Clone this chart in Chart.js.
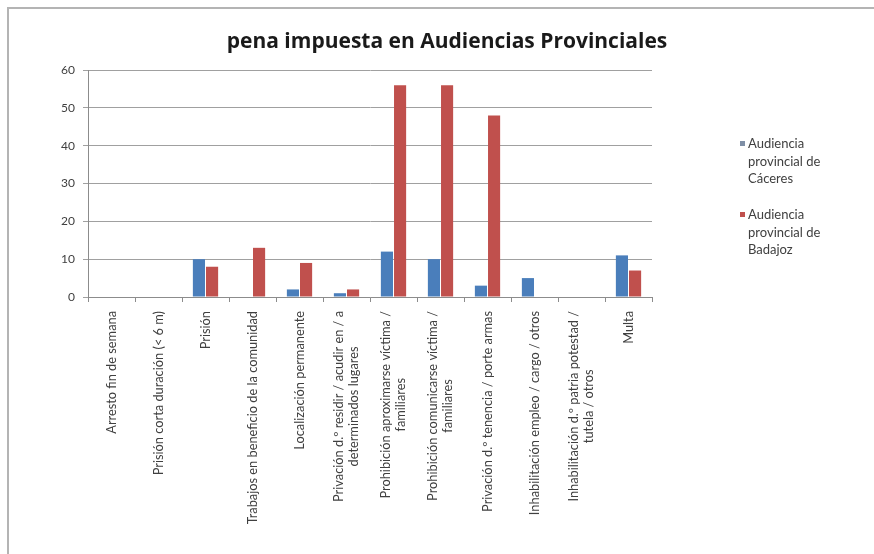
<!DOCTYPE html>
<html>
<head>
<meta charset="utf-8">
<script src="https://cdn.jsdelivr.net/npm/chart.js@4"></script>
<style>
  html, body { margin: 0; padding: 0; background: #ffffff; }
  #wrap { position: relative; width: 874px; height: 554px; overflow: hidden; }
  #frame { position: absolute; left: 7px; top: 7px; width: 900px; height: 600px;
           border-left: 2px solid #b4b4b4; border-top: 2px solid #b4b4b4; }
  #c { position: absolute; left: 0; top: 0; }
  .leg { position: absolute; left: 748px; font-family: Lato, "Open Sans", sans-serif;
         font-size: 13px; line-height: 17.5px; color: #404040; }
  .sw { position: absolute; width: 5px; height: 5px; left: -8px; top: 6px; }
</style>
</head>
<body>
<div id="wrap">
  <div id="frame"></div>
  <canvas id="c" width="874" height="554"></canvas>
  <div class="leg" id="leg1" style="top:135px;"><span class="sw" style="background:#7f8fa6;"></span>Audiencia<br>provincial de<br>Cáceres</div>
  <div class="leg" id="leg2" style="top:206px;"><span class="sw" style="background:#c0504d;"></span>Audiencia<br>provincial de<br>Badajoz</div>
</div>
<script>
const chartTitle = "pena impuesta en Audiencias Provinciales";
const categories = [
  ["Arresto fin de semana"],
  ["Prisión corta duración (< 6 m)"],
  ["Prisión"],
  ["Trabajos en beneficio de la comunidad"],
  ["Localización permanente"],
  ["Privación d.º residir / acudir en / a", "determinados lugares"],
  ["Prohibición aproximarse víctima /", "familiares"],
  ["Prohibición comunicarse víctima /", "familiares"],
  ["Privación d.º tenencia / porte armas"],
  ["Inhabilitación empleo / cargo / otros"],
  ["Inhabilitación d.º patria potestad /", "tutela / otros"],
  ["Multa"]
];
const seriesNames = ["Audiencia provincial de Cáceres", "Audiencia provincial de Badajoz"];
const caceres = [0, 0, 10, 0, 2, 1, 12, 10, 3, 5, 0, 11];
const badajoz = [0, 0, 8, 13, 9, 2, 56, 56, 48, 0, 0, 7];
const yTicks = [0, 10, 20, 30, 40, 50, 60];

const drawExtras = {
  id: 'drawExtras',
  afterDraw(chart) {
    const ctx = chart.ctx;
    const xs = chart.scales.x;
    ctx.save();
    // title
    ctx.fillStyle = '#1a1a1a';
    ctx.font = 'bold 21px "Open Sans", Lato, sans-serif';
    ctx.textAlign = 'center';
    ctx.textBaseline = 'middle';
    ctx.fillText(chartTitle, 447, 42);
    // x labels, rotated, multi-line centered
    ctx.font = '12.8px Lato, "Open Sans", sans-serif';
    ctx.fillStyle = '#404040';
    const yTop = chart.chartArea.bottom + 14;
    const lh = 15.5;
    categories.forEach((lines, i) => {
      const x = xs.getPixelForValue(i);
      let maxW = 0;
      lines.forEach(l => { maxW = Math.max(maxW, ctx.measureText(l).width); });
      ctx.save();
      ctx.translate(x, yTop);
      ctx.rotate(-Math.PI / 2);
      ctx.textAlign = 'center';
      ctx.textBaseline = 'middle';
      lines.forEach((l, j) => {
        const off = (j - (lines.length - 1) / 2) * lh;
        ctx.fillText(l, -maxW / 2, off);
      });
      ctx.restore();
    });
    ctx.restore();
  }
};

new Chart(document.getElementById('c'), {
  type: 'bar',
  data: {
    labels: categories,
    datasets: [
      { label: seriesNames[0], data: caceres, backgroundColor: '#4a7ebb', borderWidth: 0,
        categoryPercentage: 0.56, barPercentage: 0.92 },
      { label: seriesNames[1], data: badajoz, backgroundColor: '#c0504d', borderWidth: 0,
        categoryPercentage: 0.56, barPercentage: 0.92 }
    ]
  },
  options: {
    responsive: false,
    animation: false,
    layout: { padding: { left: 0, top: 70, right: 222, bottom: 0 } },
    plugins: { legend: { display: false }, title: { display: false }, tooltip: { enabled: false } },
    scales: {
      x: {
        offset: true,
        afterFit(s) { s.height = 257; },
        ticks: { display: false },
        grid: { display: true, drawOnChartArea: false, offset: true, tickLength: 5, color: '#8c8c8c' },
        border: { display: true, color: '#8c8c8c', width: 1 }
      },
      y: {
        min: 0, max: 60,
        afterFit(s) { s.width = 88; },
        afterBuildTicks(s) { s.ticks = yTicks.map(v => ({ value: v })); },
        ticks: { color: '#404040', padding: 8, font: { family: 'Lato, "Open Sans", sans-serif', size: 12 } },
        grid: { color: '#a0a0a0', tickLength: 5, lineWidth: 1 },
        border: { display: true, color: '#8c8c8c', width: 1 }
      }
    }
  },
  plugins: [drawExtras]
});
</script>
</body>
</html>
